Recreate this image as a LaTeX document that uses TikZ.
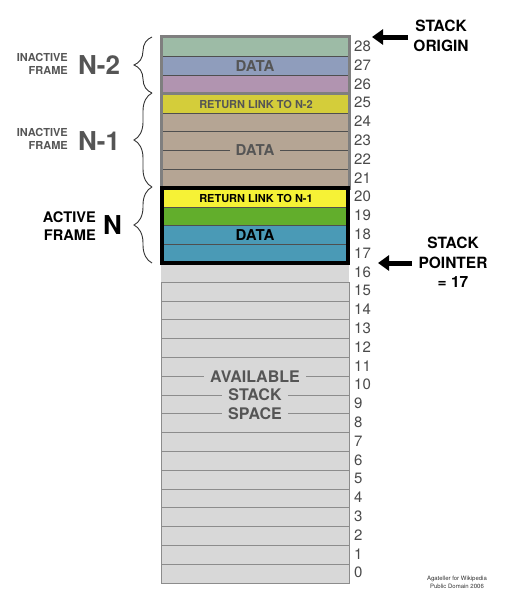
\documentclass[tikz,border=0pt]{standalone}
\usepackage{fontspec}
\setmainfont{TeX Gyre Heros}
\usetikzlibrary{decorations.pathreplacing,arrows.meta}
\definecolor{cA}{HTML}{9DBBA6}
\definecolor{cB}{HTML}{8F9DBC}
\definecolor{cC}{HTML}{B194B0}
\definecolor{cRet}{HTML}{D4CD3A}
\definecolor{cTan}{HTML}{B5A594}
\definecolor{cYel}{HTML}{F6F236}
\definecolor{cGrn}{HTML}{62AE2C}
\definecolor{cTeal}{HTML}{4A9AB6}
\definecolor{cAvail}{HTML}{D8D8D8}
\definecolor{cAvLine}{HTML}{8C8C8C}
\definecolor{cFrame}{HTML}{7F7F7F}
\definecolor{cTxt}{HTML}{555555}
\definecolor{cSep}{HTML}{4F4F4F}
\definecolor{cNum}{HTML}{4A4A4A}
\begin{document}
\begin{tikzpicture}[x=1pt,y=-1pt,
  avline/.style={cAvLine, line width=1pt},
  sepline/.style={cSep, line width=0.9pt},
  num/.style={anchor=west, inner sep=0pt, text=cNum, font=\fontsize{15}{15}\selectfont},
  bigtxt/.style={inner sep=0pt, font=\fontsize{15}{15}\selectfont\bfseries},
  avtxt/.style={fill=cAvail, inner xsep=6pt, inner ysep=1pt, text=cTxt, font=\fontsize{16}{16}\selectfont\bfseries},
  rettxt/.style={inner sep=0pt, font=\fontsize{11}{11}\selectfont\bfseries},
  frametxt/.style={anchor=east, align=right, inner sep=0pt, text=cTxt, font=\fontsize{11}{13}\selectfont\bfseries},
  bigN/.style={anchor=west, inner sep=0pt, font=\fontsize{26}{26}\selectfont\bfseries},
  brc/.style={decorate, decoration={brace, amplitude=18pt}, draw=black!80, line width=0.9pt},
  bigarrow/.style={line width=5pt, -{Triangle[length=11pt,width=15pt]}},
  sidetxt/.style={align=center, inner sep=0pt, font=\fontsize{15.5}{19.5}\selectfont\bfseries}
]
\useasboundingbox (0,0) rectangle (505,600);
% row fills
\foreach \i/\c in {0/cAvail,1/cAvail,2/cAvail,3/cAvail,4/cAvail,5/cAvail,6/cAvail,7/cAvail,8/cAvail,9/cAvail,10/cAvail,11/cAvail,12/cAvail,13/cAvail,14/cAvail,15/cAvail,16/cAvail,17/cTeal,18/cTeal,19/cGrn,20/cYel,21/cTan,22/cTan,23/cTan,24/cTan,25/cRet,26/cC,27/cB,28/cA}
  \fill[\c] (161,{583-(\i+1)*18.8}) rectangle (349,{583-\i*18.8});
% available separators and border
\foreach \i in {1,...,16}
  \draw[avline] (161,{583-\i*18.8}) -- (349,{583-\i*18.8});
\draw[avline] (161,{583-16*18.8}) -- (161,583) -- (349,583) -- (349,{583-16*18.8});
% colored separators
\foreach \i in {18,19,20,22,23,24,25,27,28}
  \draw[sepline] (161,{583-\i*18.8}) -- (349,{583-\i*18.8});
% frames
\draw[cFrame, line width=3.2pt] (161.3,36.5) rectangle (349.8,188);
\draw[cFrame, line width=3.2pt] (161.3,93.2) -- (349.8,93.2);
\draw[black, line width=3.7pt] (161.7,187.8) rectangle (348.3,262.7);
% numbers
\foreach \i in {0,...,28}
  \node[num] (n\i) at (354,{583-(\i+0.5)*18.8-1}) {\i};
% texts in stack
\node[bigtxt, text=cTxt] (data2) at (255,66) {DATA};
\node[rettxt, text=cTxt] (ret2) at (256,104.5) {RETURN LINK TO N-2};
\node[bigtxt, text=cTxt, fill=cTan, inner xsep=6pt, inner ysep=1pt] (data1) at (255,150.4) {DATA};
\node[rettxt] (ret1) at (256,198) {RETURN LINK TO N-1};
\node[bigtxt] (data0) at (255,235) {DATA};
\node[avtxt] (av1) at (255,{583-11*18.8}) {AVAILABLE};
\node[avtxt] (av2) at (255,{583-10*18.8}) {STACK};
\node[avtxt] (av3) at (255,{583-9*18.8}) {SPACE};
% braces
\coordinate (b2a) at (152,93);
\coordinate (b2b) at (152,37);
\coordinate (b1a) at (152,187);
\coordinate (b1b) at (152,93);
\coordinate (b0a) at (152,263);
\coordinate (b0b) at (152,187);
\draw[brc] (b2a) -- (b2b);
\draw[brc] (b1a) -- (b1b);
\draw[brc] (b0a) -- (b0b);
% left labels
\node[frametxt] (f2) at (68,63.5) {INACTIVE\\FRAME};
\node[bigN, text=cTxt] (N2) at (78,65) {N-2};
\node[frametxt] (f1) at (68,139) {INACTIVE\\FRAME};
\node[bigN, text=cTxt] (N1) at (78,141) {N-1};
\node[frametxt, text=black, font=\fontsize{14.6}{18}\selectfont\bfseries] (f0) at (96,226.5) {ACTIVE\\FRAME};
\node[bigN, text=black] (N0) at (103,225.5) {N};
% right labels
\node[sidetxt] (origin) at (441,36) {STACK\\ORIGIN};
\coordinate (oa) at (408,37);
\coordinate (ob) at (372,37);
\draw[bigarrow] (oa) -- (ob);
\node[sidetxt] (sp) at (453,262.5) {STACK\\POINTER\\= 17};
\coordinate (pa) at (412,263);
\coordinate (pb) at (378,263);
\draw[bigarrow] (pa) -- (pb);
% credit
\node[align=center, inner sep=0pt, text=black!80, font=\fontsize{6}{8.5}\selectfont] (credit) at (457,582.5) {Agateller for Wikipedia\\Public Domain 2006};
\end{tikzpicture}
\end{document}
